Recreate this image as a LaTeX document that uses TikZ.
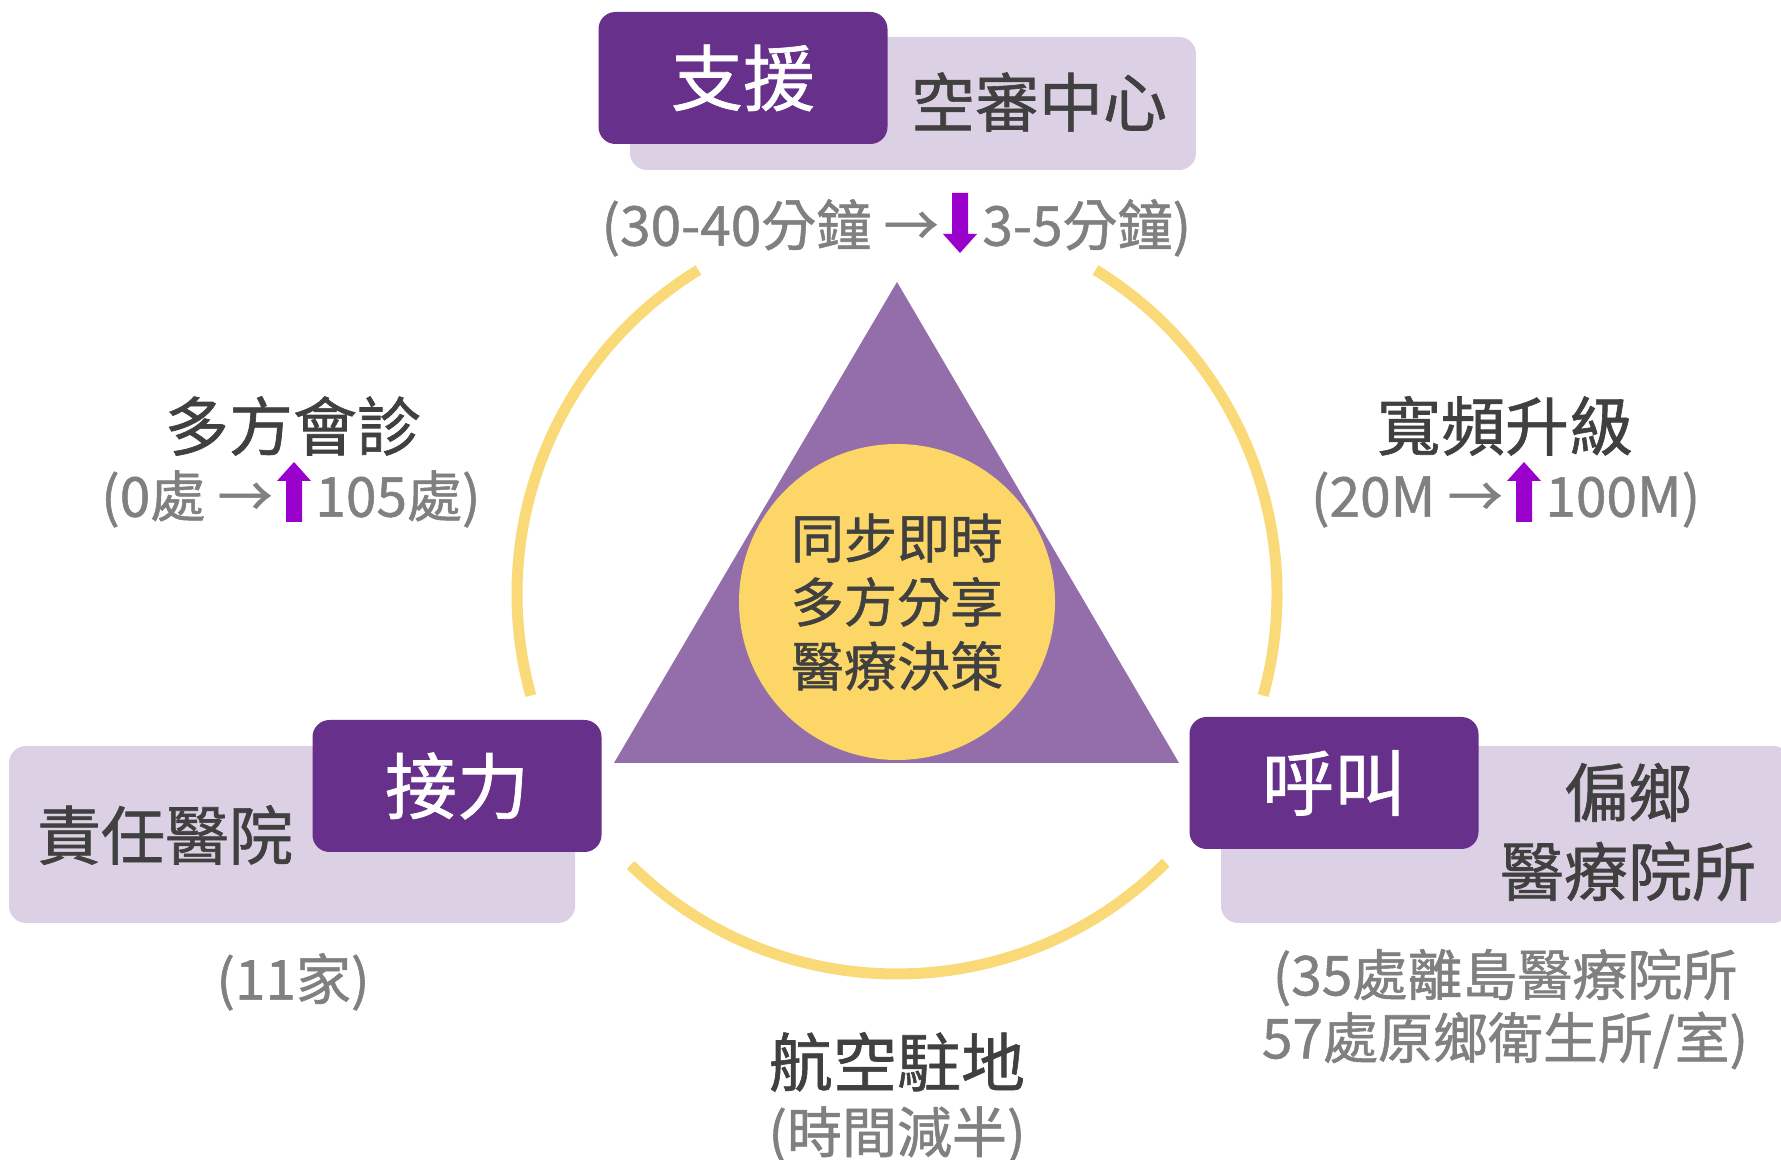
\documentclass[tikz,border=0pt]{standalone}
\usepackage{fontspec}
\setmainfont{Noto Sans CJK TC}[FakeBold=1]
\usetikzlibrary{positioning,calc}
\definecolor{tagpurple}{RGB}{103,49,139}
\definecolor{boxlilac}{RGB}{220,208,228}
\definecolor{tripurple}{RGB}{148,110,170}
\definecolor{coreyellow}{RGB}{252,214,102}
\definecolor{ringyellow}{RGB}{250,217,120}
\definecolor{darktext}{RGB}{64,64,64}
\definecolor{greytext}{RGB}{128,128,128}
\definecolor{arrowviolet}{RGB}{153,0,204}

\begin{document}
\begin{tikzpicture}[x=0.5pt,y=0.5pt,
    ring/.style={ringyellow,line width=5.5pt},
    lilac/.style={fill=boxlilac,rounded corners=8.5pt},
    tagbox/.style={fill=tagpurple,rounded corners=8.5pt,text=white,minimum width=144.5pt,minimum height=66pt,inner sep=0pt,font=\fontsize{36pt}{43pt}\selectfont},
    boxtext/.style={text=darktext,inner sep=0pt,align=center,font=\fontsize{32pt}{39.5pt}\selectfont},
    head/.style={text=darktext,inner sep=0pt,font=\fontsize{32pt}{38pt}\selectfont},
    sub/.style={text=greytext,inner sep=0pt,text height=24pt,text depth=3.3pt,font=\fontsize{27.5pt}{31.5pt}\selectfont},
    subline/.style={text=greytext,inner sep=0pt,align=center,font=\fontsize{27.5pt}{31.5pt}\selectfont},
    boldarrow/.style={fill=arrowviolet}]

    \useasboundingbox (0,0) rectangle (1781,1160);

    % ring
    \coordinate (ctr) at (897,566);
    \draw[ring] ($(ctr)+(121.5:380)$) arc[start angle=121.5,end angle=195.5,radius=380];
    \draw[ring] ($(ctr)+(-15.5:380)$) arc[start angle=-15.5,end angle=58.5,radius=380];
    \draw[ring] ($(ctr)+(225.5:380)$) arc[start angle=225.5,end angle=315,radius=380];

    % centre
    \fill[tripurple] (614,397) -- (897,878) -- (1179,397) -- cycle;
    \node[circle,fill=coreyellow,minimum size=158pt,inner sep=0pt,text=darktext,align=center,font=\fontsize{26.5pt}{32pt}\selectfont] (core) at (897,558) {同步即時\\多方分享\\醫療決策};

    % top
    \fill[lilac] (630,990) rectangle (1196,1123);
    \node[tagbox] (zy) at (743,1082) {支援};
    \node[boxtext] (kz) at (1039,1058) {空審中心};
    \node[sub,anchor=east] (t1) at (939,935) {(30-40分鐘 →};
    \coordinate (tdn) at (960,937);
    \fill[boldarrow] (tdn) ++(0,-30) -- ++(17,19) -- ++(-9,0) -- ++(0,41) -- ++(-16,0) -- ++(0,-41) -- ++(-9,0) -- cycle;
    \node[sub,anchor=west] (t2) at (982,935) {3-5分鐘)};

    % left
    \node[head] (dfh) at (293,734) {多方會診};
    \node[sub,anchor=east] (l1) at (273,664) {(0處 →};
    \coordinate (lup) at (294,668);
    \fill[boldarrow] (lup) ++(0,30) -- ++(17,-19) -- ++(-9,0) -- ++(0,-41) -- ++(-16,0) -- ++(0,41) -- ++(-9,0) -- cycle;
    \node[sub,anchor=west] (l2) at (315,664) {105處)};

    % right
    \node[head] (kp) at (1505,734) {寬頻升級};
    \node[sub,anchor=east] (r1) at (1503,664) {(20M →};
    \coordinate (rup) at (1524,668);
    \fill[boldarrow] (rup) ++(0,30) -- ++(17,-19) -- ++(-9,0) -- ++(0,-41) -- ++(-16,0) -- ++(0,41) -- ++(-9,0) -- cycle;
    \node[sub,anchor=west] (r2) at (1545,664) {100M)};

    % bottom left
    \fill[lilac] (9,237) rectangle (575,414);
    \node[tagbox] (jl) at (457,374) {接力};
    \node[boxtext] (zr) at (165,325) {責任醫院};
    \node[sub] (jc) at (293,181) {(11家)};

    % bottom right
    \fill[lilac] (1221,237) rectangle (1790,414);
    \node[tagbox] (hj) at (1334,377) {呼叫};
    \node[boxtext] (px) at (1628,328) {偏鄉\\醫療院所};
    \node[subline] (ps) at (1505,151) {(35處離島醫療院所\\57處原鄉衛生所/室)};

    % bottom
    \node[head] (hk) at (897,98) {航空駐地};
    \node[sub] (sj) at (897,28) {(時間減半)};
\end{tikzpicture}
\end{document}
